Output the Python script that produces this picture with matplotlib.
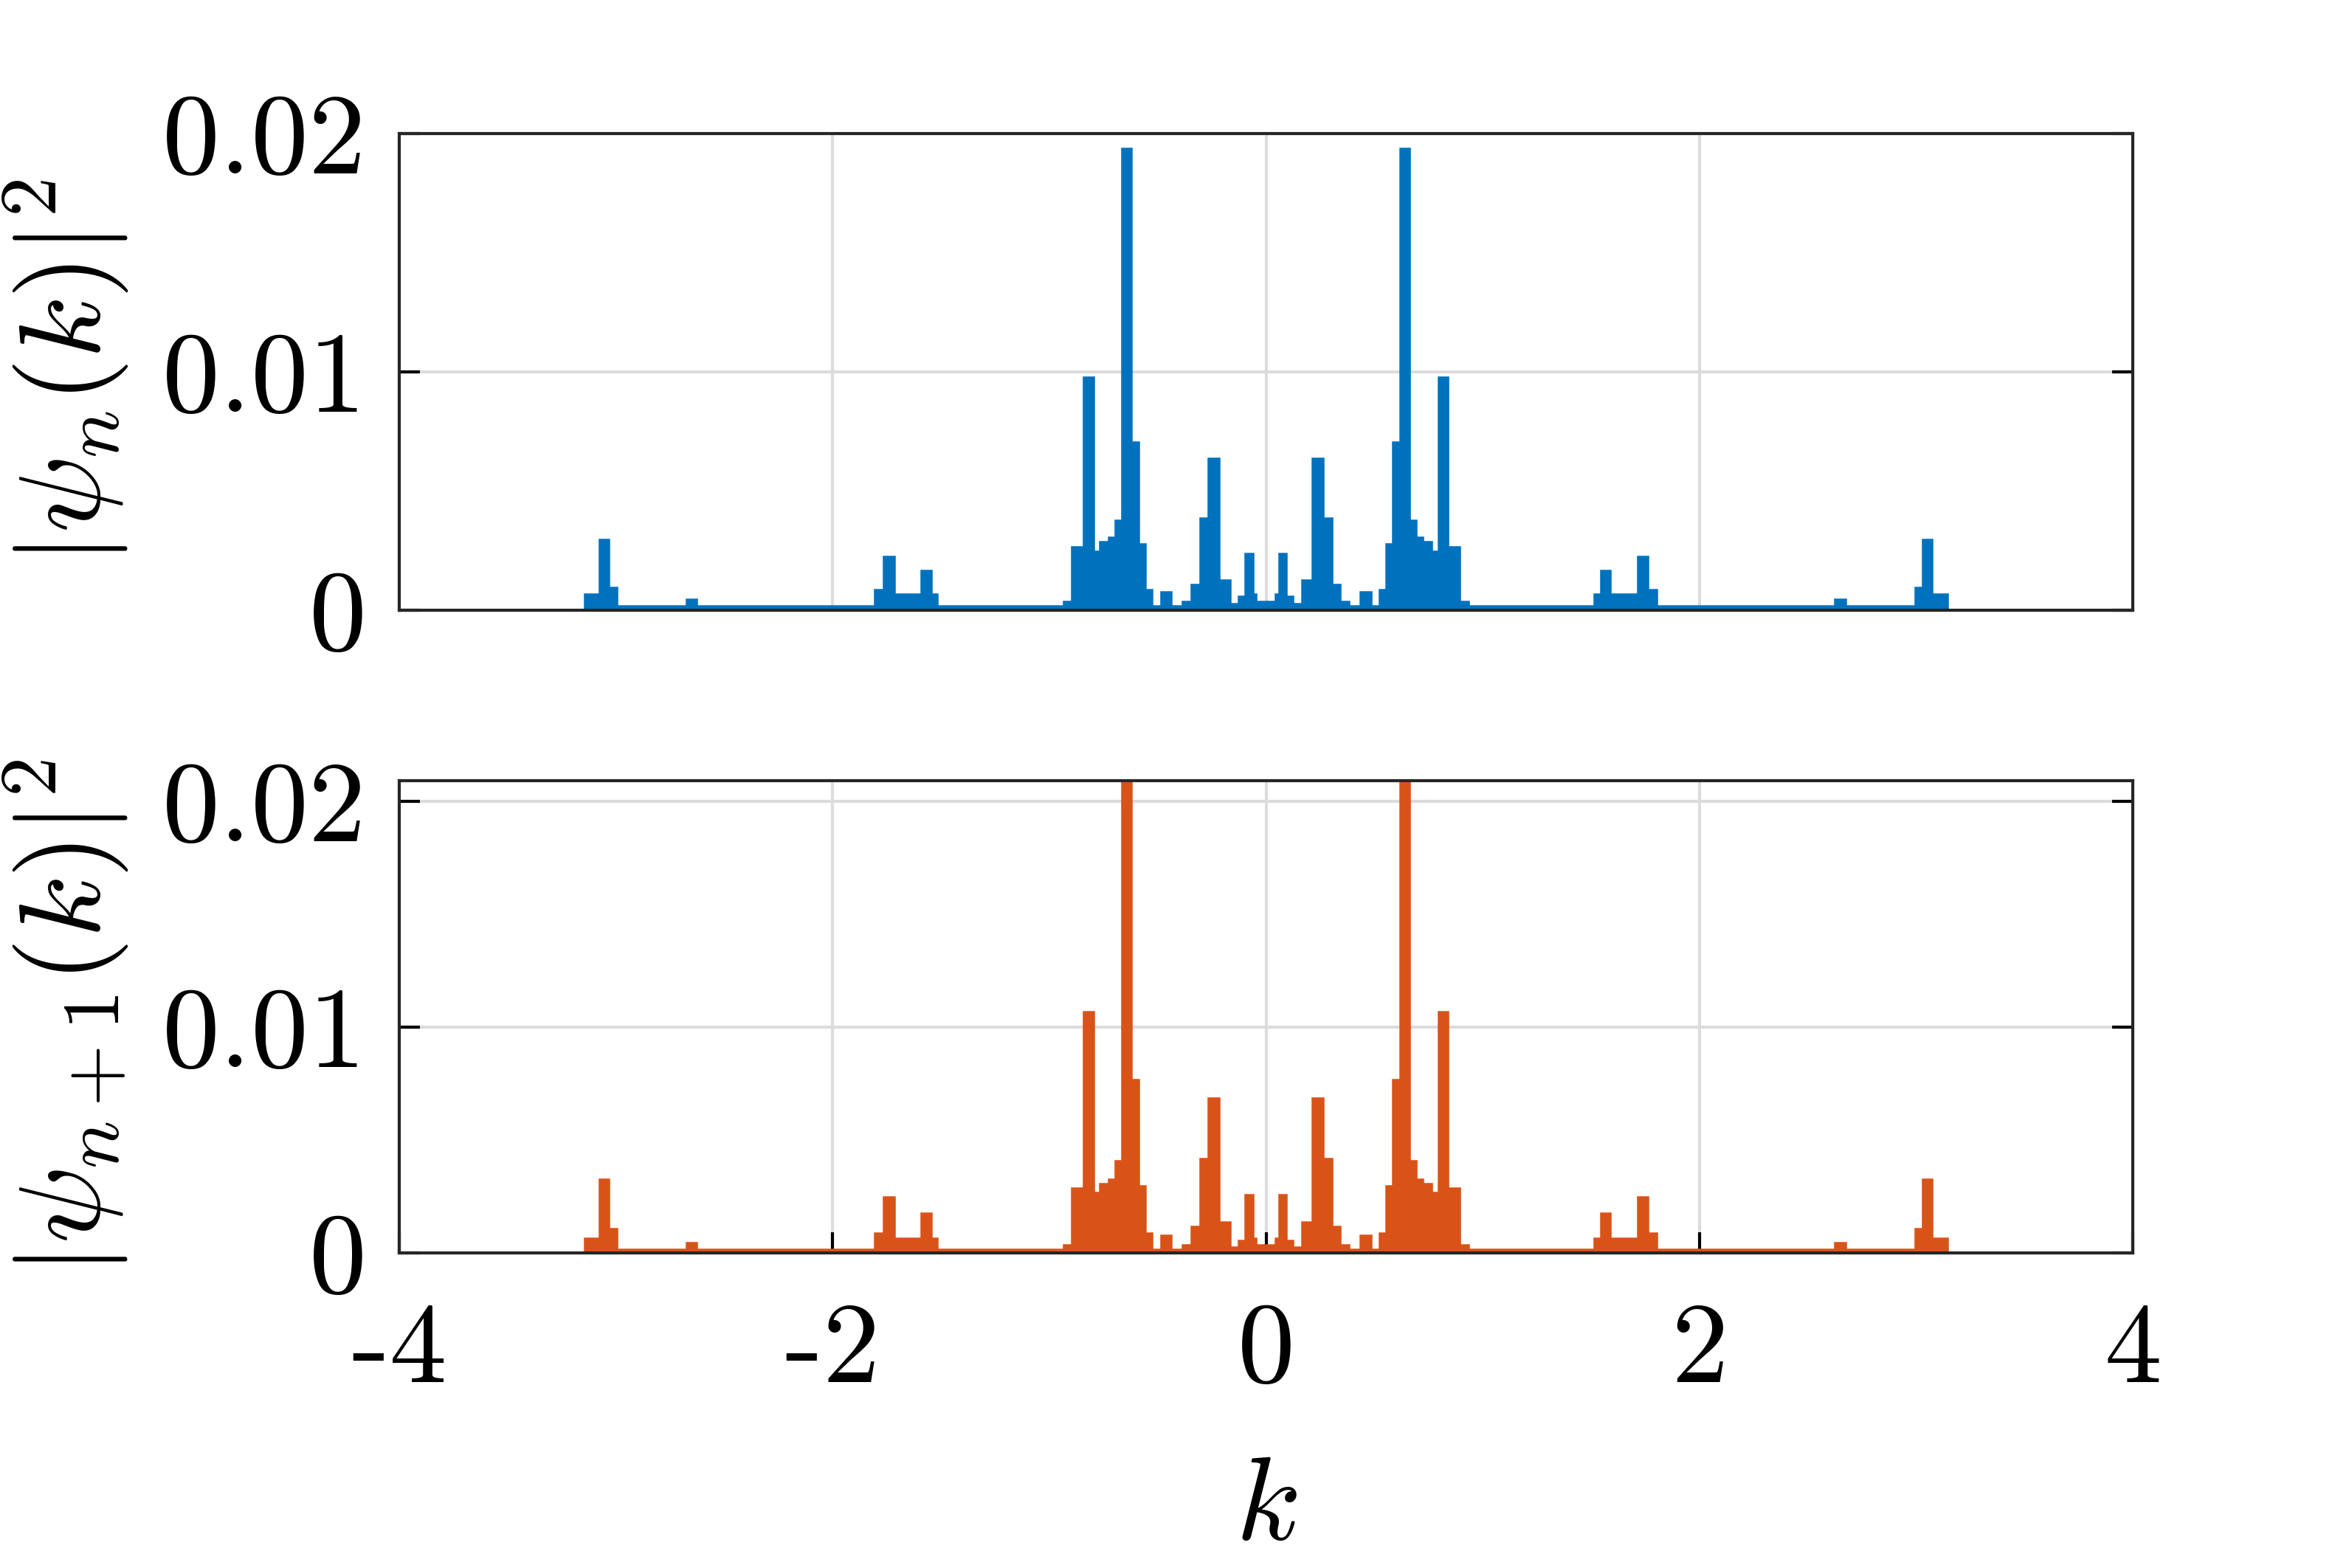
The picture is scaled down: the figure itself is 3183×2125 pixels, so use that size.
import numpy as np
import matplotlib
matplotlib.use("Agg")
import matplotlib.pyplot as plt

plt.rcParams['mathtext.fontset'] = 'cm'
plt.rcParams['font.family'] = ['DejaVu Serif']

# positive-k half (mirrored for negative k)
edges_pos = [0.00, 0.05, 0.065, 0.09, 0.12, 0.17, 0.22, 0.26, 0.30, 0.34, 0.38, 0.44, 0.48,
             0.53, 0.56, 0.59, 0.625, 0.66, 0.69, 0.72, 0.76, 0.80, 0.835, 0.89, 0.93,
             1.52, 1.55, 1.585, 1.72, 1.76, 1.80, 2.63, 2.67, 3.00, 3.035, 3.07, 3.14]
psi_n_pos = [0.0003, 0.0006, 0.0023, 0.0005, 0.0002, 0.0012, 0.0063, 0.0038, 0.0010, 0.0003,
             0.0001, 0.0007, 0.0001, 0.0008, 0.0027, 0.0070, 0.0193, 0.0037, 0.0030, 0.0028,
             0.0024, 0.0097, 0.0026, 0.0003, 0.0001, 0.0006, 0.0016, 0.0006, 0.0022, 0.0008,
             0.0001, 0.0004, 0.0001, 0.0009, 0.0029, 0.0006]
psi_n1_pos = [0.0003, 0.0006, 0.0025, 0.0005, 0.0002, 0.0013, 0.0068, 0.0041, 0.0011, 0.0003,
              0.0001, 0.0007, 0.0001, 0.0008, 0.0029, 0.0076, 0.0215, 0.0040, 0.0032, 0.0030,
              0.0026, 0.0106, 0.0028, 0.0003, 0.0001, 0.0006, 0.0017, 0.0006, 0.0024, 0.0008,
              0.0001, 0.0004, 0.0001, 0.0010, 0.0032, 0.0006]

xticks = [-4, -2, 0, 2, 4]
xtick_labels = ['-4', '-2', '0', '2', '4']
yticks = [0, 0.01, 0.02]
ytick_labels = ['0', '0.01', '0.02']

def full(e, v):
    e = np.array(e); v = np.array(v)
    edges = np.concatenate([-e[::-1], e[1:]])
    vals = np.concatenate([v[::-1], v])
    return edges, vals

blue = '#0072BD'
orange = '#D95319'
tickfont = dict(family='cmr10', size=56)

fig = plt.figure(figsize=(15.915, 10.625), dpi=200)
ax1 = fig.add_axes([0.170, 0.611, 0.738, 0.304])
ax2 = fig.add_axes([0.170, 0.201, 0.738, 0.301])

for ax, vals, col, ymax, lab in [
        (ax1, psi_n_pos, blue, 0.02, r'$|\psi_n(k)|^2$'),
        (ax2, psi_n1_pos, orange, 0.0209, r'$|\psi_{n+1}(k)|^2$')]:
    e, v = full(edges_pos, vals)
    ax.stairs(v, e, fill=True, color=col, lw=0)
    ax.stairs(v, e, fill=False, color=col, lw=2)
    ax.set_xlim(-4, 4)
    ax.set_ylim(0, ymax)
    ax.set_xticks(xticks)
    ax.set_yticks(yticks)
    ax.set_yticklabels(ytick_labels, fontdict=tickfont)
    ax.grid(True, color='#DCDCDC', lw=1.5)
    ax.set_axisbelow(True)
    ax.tick_params(direction='in', length=10, width=1.5, right=True, top=False, pad=16)
    ax.set_ylabel(lab, fontsize=56)
    for s in ax.spines.values():
        s.set_linewidth(1.5)
        s.set_color('#262626')

ax1.set_xticklabels([])
ax1.tick_params(axis='x', length=0)
ax2.set_xticklabels(xtick_labels, fontdict=tickfont)
ax2.tick_params(axis='x', pad=24)
ax2.set_xlabel('$k$', fontsize=58, labelpad=22)
ax1.yaxis.set_label_coords(-0.155, 0.5)
ax2.yaxis.set_label_coords(-0.155, 0.5)

fig.savefig('out.png', dpi=200, facecolor='white')
